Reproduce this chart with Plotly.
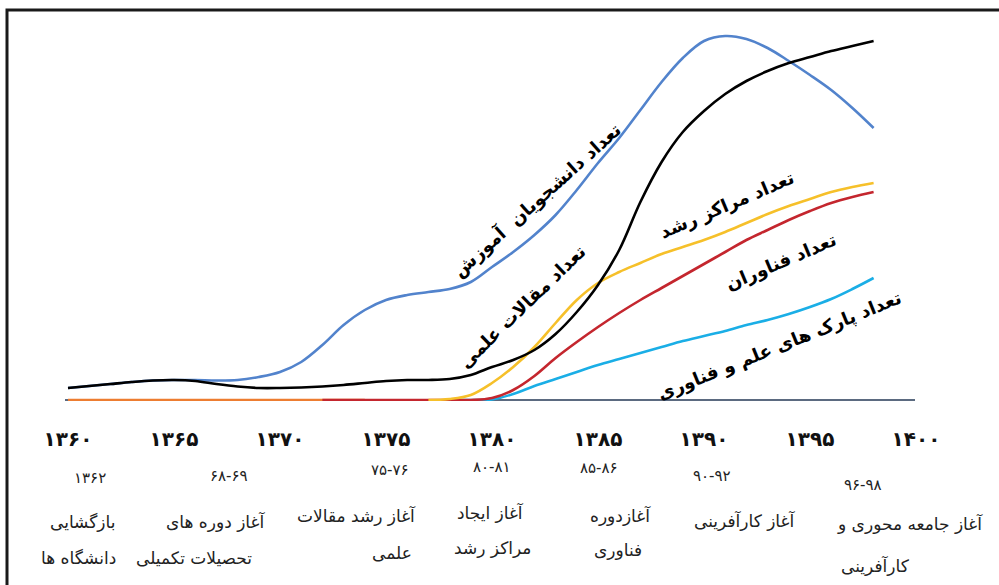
import plotly.graph_objects as go

# ---------------- data ----------------
years_main = list(range(1360, 1399))
articles = [12, 14, 16, 18, 19.5, 20, 19, 16, 13.5, 12, 12, 12.5, 13.5, 15, 17, 19, 20, 20, 21, 25,
            33, 40, 50, 66, 88, 115, 150, 198, 238, 268, 289, 306, 319, 329, 337, 343, 349, 354, 359]
students = [12, 14, 16, 18, 19.5, 20, 20, 19.5, 20, 23, 28, 38, 55, 75, 90, 100, 105, 108, 111, 118,
            133, 148, 165, 185, 210, 237, 262, 290, 318, 342, 359, 364, 361, 352, 339, 325, 310, 292, 272]

years_incub = list(range(1377, 1399))
incubators = [0, 1, 5, 17, 33, 53, 77, 100, 117, 128, 137, 146, 153, 160, 168, 177, 186, 194, 201, 208, 213, 217]

years_tech = list(range(1372, 1399))
technologists = [0, 0, 0, 0, 0, 0, 0, 0, 2, 10, 24, 42, 58, 73, 87, 100, 112, 124, 136, 148, 160, 170, 180, 189, 197, 203, 208]

years_parks = list(range(1378, 1399))
parks = [0, 0, 0.5, 6, 14, 21, 28, 35, 41, 47, 53, 59, 64, 69, 75, 80, 86, 93, 101, 111, 122]

years_base = list(range(1360, 1375))
base_zero = [0] * len(years_base)

tick_years = [1360, 1365, 1370, 1375, 1380, 1385, 1390, 1395, 1400]
tick_text = ["۱۳۶۰", "۱۳۶۵", "۱۳۷۰", "۱۳۷۵", "۱۳۸۰", "۱۳۸۵", "۱۳۹۰", "۱۳۹۵", "۱۴۰۰"]

event_years = ["۱۳۶۲", "۶۸-۶۹", "۷۵-۷۶", "۸۰-۸۱", "۸۵-۸۶", "۹۰-۹۲", "۹۶-۹۸"]
event_line1 = ["بازگشایی", "آغاز دوره های", "آغاز رشد مقالات", "آغاز ایجاد", "آغازدوره", "آغاز کارآفرینی", "آغاز جامعه محوری و"]
event_line2 = ["دانشگاه ها", "تحصیلات تکمیلی", "علمی", "مراکز رشد", "فناوری", "", "کارآفرینی"]

curve_labels = ["تعداد دانشجویان  آموزش", "تعداد مقالات علمی", "تعداد مراکز رشد", "تعداد فناوران",
                "تعداد پارک های علم و فناوری"]

# ---------------- geometry helpers ----------------
L, R_EDGE, T, B_EDGE = 65, 918, 10, 401
PX_PER_YEAR = 21.2
X0 = 1360 - (68 - L) / PX_PER_YEAR
X1 = X0 + (R_EDGE - L) / PX_PER_YEAR
Y0 = -(B_EDGE - 400)
Y1 = 400 - T


def px2x(px):
    return X0 + (px - L) / PX_PER_YEAR


def py2paper(py):
    return (B_EDGE - py) / (B_EDGE - T)


def px2paper(px):
    return (px - L) / (R_EDGE - L)


fig = go.Figure()

line_w = 2.6
fig.add_trace(go.Scatter(x=years_base, y=base_zero, mode="lines",
                         line=dict(color="#ED7D31", width=line_w), hoverinfo="skip"))
fig.add_trace(go.Scatter(x=years_parks, y=parks, mode="lines", line_shape="spline",
                         line=dict(color="#1AAEE6", width=line_w)))
fig.add_trace(go.Scatter(x=years_tech, y=technologists, mode="lines", line_shape="spline",
                         line=dict(color="#C4262E", width=line_w)))
fig.add_trace(go.Scatter(x=years_incub, y=incubators, mode="lines", line_shape="spline",
                         line=dict(color="#F6C02A", width=line_w)))
fig.add_trace(go.Scatter(x=years_main, y=students, mode="lines", line_shape="spline",
                         line=dict(color="#5283CC", width=line_w)))
fig.add_trace(go.Scatter(x=years_main, y=articles, mode="lines", line_shape="spline",
                         line=dict(color="#000000", width=line_w)))

ARABIC = "DejaVu Sans, Noto Sans, sans-serif"

annotations = []
# event labels (below axis)
ev_year_pos = [(90, 478), (229, 476), (390, 470), (492, 467), (599, 468), (712, 476), (863, 485)]
ev_l1_pos = [(82, 522), (215, 521), (356, 515), (490, 512), (620, 515), (744, 520), (910, 523)]
ev_l2_pos = [(78, 558), (194, 558), (392, 553), (492, 548), (618, 550), (744, 558), (875, 565)]
for i in range(len(event_years)):
    annotations.append(dict(x=px2x(ev_year_pos[i][0]), y=py2paper(ev_year_pos[i][1]), xref="x", yref="paper",
                            text=event_years[i], showarrow=False, font=dict(family=ARABIC, size=15, color="#222"),
                            xanchor="center", yanchor="middle"))
    annotations.append(dict(x=px2x(ev_l1_pos[i][0]), y=py2paper(ev_l1_pos[i][1]), xref="x", yref="paper",
                            text=event_line1[i], showarrow=False, font=dict(family=ARABIC, size=17, color="#222"),
                            xanchor="center", yanchor="middle"))
    if event_line2[i]:
        annotations.append(dict(x=px2x(ev_l2_pos[i][0]), y=py2paper(ev_l2_pos[i][1]), xref="x", yref="paper",
                                text=event_line2[i], showarrow=False, font=dict(family=ARABIC, size=17, color="#222"),
                                xanchor="center", yanchor="middle"))

# rotated labels along curves
cl_pos = [(536, 200, -42), (522, 306, -44), (727, 205, -23), (781, 262, -23), (779, 346, -22)]
for txt, (cx, cy, ang) in zip(curve_labels, cl_pos):
    annotations.append(dict(x=px2x(cx), y=400 - cy, xref="x", yref="y", text=txt, showarrow=False,
                            textangle=ang, font=dict(family=ARABIC, size=18, color="#000", weight="bold"),
                            xanchor="center", yanchor="middle"))

shapes = [
    dict(type="rect", xref="paper", yref="paper",
         x0=px2paper(7), x1=px2paper(1010), y0=py2paper(600), y1=py2paper(10),
         line=dict(color="#1a1a1a", width=3), fillcolor="rgba(0,0,0,0)", layer="above"),
]

fig.update_layout(
    width=999, height=585,
    margin=dict(l=L, r=999 - R_EDGE, t=T, b=585 - B_EDGE),
    paper_bgcolor="white", plot_bgcolor="white",
    showlegend=False,
    annotations=annotations,
    shapes=shapes,
    xaxis=dict(range=[X0, X1], tickvals=tick_years, ticktext=tick_text, showgrid=False, zeroline=False,
               showline=False, ticks="", ticklabelstandoff=24,
               tickfont=dict(family="DejaVu Sans, sans-serif", size=20, color="#111", weight="bold")),
    yaxis=dict(range=[Y0, Y1], visible=False, showgrid=False, zeroline=False),
)

# baseline under the curves (ends at x ~ 1400)
fig.add_shape(type="line", xref="x", yref="y", x0=X0, x1=px2x(915), y0=-0.5, y1=-0.5,
              line=dict(color="#5B6A80", width=3), layer="below")

fig.write_html("out.html", config={"displayModeBar": False},
               post_script="document.body.style.margin='0';document.body.style.overflow='hidden';")
